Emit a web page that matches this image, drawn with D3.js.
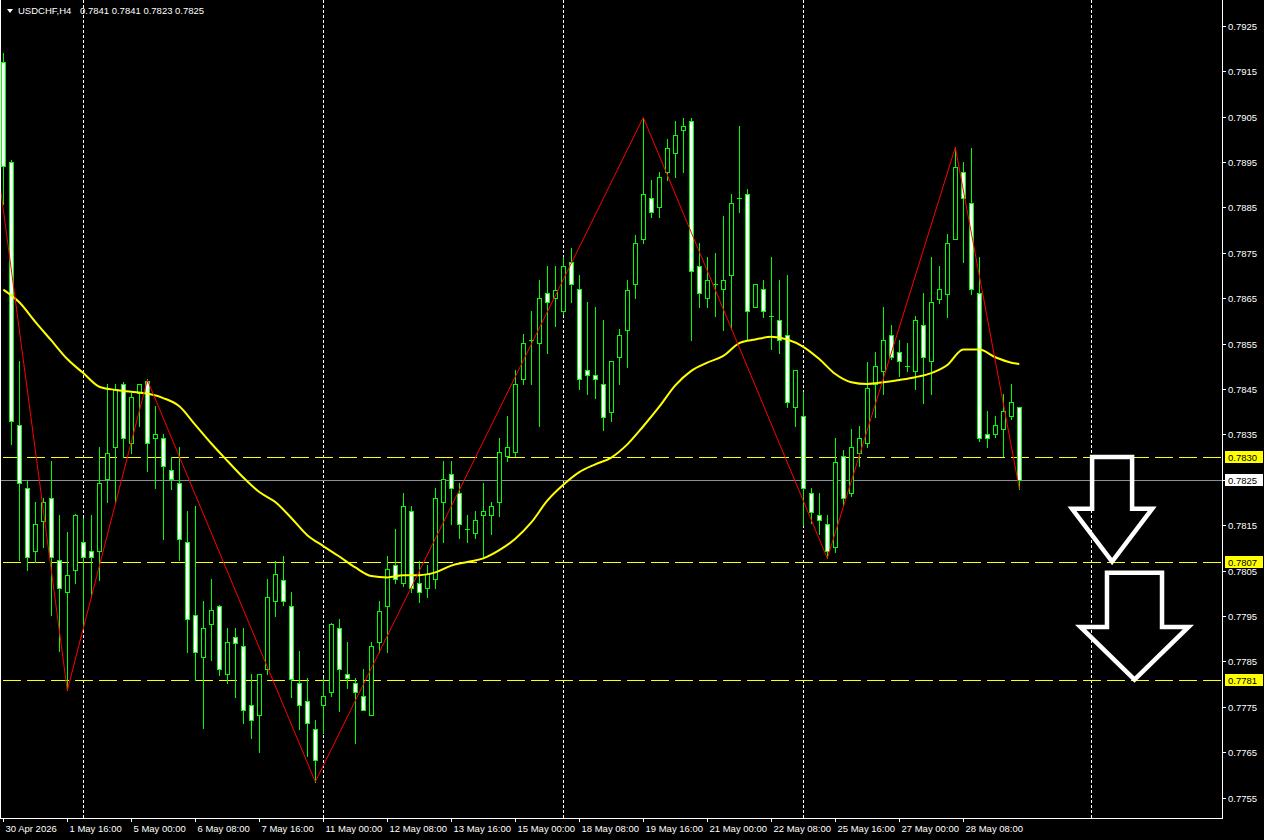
<!DOCTYPE html>
<html><head><meta charset="utf-8">
<script src="https://cdn.jsdelivr.net/npm/d3@7"></script>
<style>html,body{margin:0;padding:0;background:#000;overflow:hidden}</style>
</head><body>
<svg id="c" width="1264" height="840"></svg>
<script>
// ---------- DATA ----------
const symbolTitle = "USDCHF,H4";
const titleValues = "0.7841 0.7841 0.7823 0.7825";

const opens = [0.79171,0.78950,0.78371,0.78232,0.78093,0.78160,0.78211,0.78073,0.78003,0.78052,
0.78112,0.78093,0.78093,0.78252,0.78322,0.78461,0.78330,0.78441,0.78468,0.78341,
0.78341,0.78272,0.78242,0.78112,0.77952,0.77860,0.77932,0.77972,0.77822,0.77903,
0.77884,0.77753,0.77733,0.77833,0.77983,0.78030,0.77971,0.77802,0.77762,0.77702,
0.77753,0.77782,0.77923,0.77822,0.77802,0.77773,0.77733,0.77892,0.77971,0.78062,
0.78022,0.78181,0.78022,0.78011,0.78032,0.78200,0.78262,0.78221,0.78141,0.78132,
0.78172,0.78172,0.78201,0.78302,0.78311,0.78471,0.78559,0.78551,0.78661,0.78650,
0.78621,0.78729,0.78670,0.78492,0.78480,0.78460,0.78400,0.78520,0.78581,0.78681,
0.78780,0.78870,0.78850,0.78929,0.78969,0.79020,0.79040,0.78720,0.78650,0.78681,
0.78670,0.78700,0.78870,0.78879,0.78630,0.78670,0.78610,0.78601,0.78570,0.78411,
0.78390,0.78220,0.78172,0.78152,0.78101,0.78302,0.78220,0.78310,0.78330,0.78462,
0.78490,0.78570,0.78531,0.78500,0.78490,0.78590,0.78511,0.78649,0.78660,0.78780,
0.78929,0.78859,0.78661,0.78350,0.78350,0.78361,0.78391,0.78410];
const highs = [0.79191,0.78955,0.78512,0.78250,0.78201,0.78211,0.78291,0.78172,0.78134,0.78175,
0.78165,0.78172,0.78322,0.78461,0.78461,0.78465,0.78441,0.78462,0.78472,0.78413,
0.78350,0.78301,0.78322,0.78181,0.78192,0.77983,0.78031,0.77975,0.77923,0.77923,
0.77923,0.77822,0.77822,0.78031,0.78072,0.78083,0.78003,0.77873,0.77813,0.77722,
0.77813,0.77935,0.77943,0.77893,0.77813,0.77833,0.77893,0.77982,0.78083,0.78142,
0.78221,0.78192,0.78071,0.78062,0.78231,0.78291,0.78291,0.78242,0.78172,0.78181,
0.78242,0.78201,0.78341,0.78391,0.78492,0.78571,0.78622,0.78690,0.78721,0.78721,
0.78741,0.78760,0.78701,0.78641,0.78630,0.78602,0.78511,0.78582,0.78689,0.78790,
0.79048,0.78910,0.78929,0.79000,0.79040,0.79048,0.79048,0.78771,0.78740,0.78749,
0.78830,0.78879,0.79029,0.78890,0.78681,0.78690,0.78740,0.78690,0.78701,0.78491,
0.78443,0.78231,0.78220,0.78172,0.78341,0.78315,0.78361,0.78369,0.78510,0.78531,
0.78630,0.78590,0.78559,0.78551,0.78610,0.78661,0.78741,0.78721,0.78791,0.78982,
0.78949,0.78980,0.78740,0.78402,0.78390,0.78440,0.78461,0.78410];
const lows = [0.78857,0.78329,0.78073,0.78052,0.78069,0.78101,0.77952,0.77872,0.77786,0.78023,
0.77921,0.77991,0.78030,0.78201,0.78200,0.78301,0.78310,0.78368,0.78270,0.78231,
0.78120,0.78230,0.78073,0.77871,0.77810,0.77703,0.77852,0.77820,0.77802,0.77772,
0.77714,0.77682,0.77651,0.77822,0.77951,0.77975,0.77772,0.77702,0.77642,0.77585,
0.77693,0.77773,0.77741,0.77792,0.77670,0.77742,0.77733,0.77871,0.77871,0.78022,
0.78015,0.78002,0.77981,0.77991,0.78011,0.78113,0.78152,0.78121,0.78112,0.78121,
0.78081,0.78131,0.78171,0.78291,0.78302,0.78460,0.78460,0.78369,0.78530,0.78589,
0.78615,0.78641,0.78450,0.78439,0.78431,0.78360,0.78380,0.78460,0.78499,0.78650,
0.78771,0.78829,0.78829,0.78910,0.78918,0.78929,0.78559,0.78630,0.78630,0.78610,
0.78581,0.78582,0.78839,0.78558,0.78630,0.78609,0.78539,0.78530,0.78411,0.78369,
0.78150,0.78154,0.78131,0.78077,0.78092,0.78195,0.78215,0.78281,0.78322,0.78389,
0.78439,0.78515,0.78479,0.78490,0.78451,0.78420,0.78439,0.78639,0.78609,0.78780,
0.78729,0.78660,0.78335,0.78322,0.78345,0.78302,0.78385,0.78230];
const closes = [0.78941,0.78380,0.78243,0.78081,0.78153,0.78201,0.78081,0.78012,0.78041,0.78172,
0.78081,0.78081,0.78243,0.78310,0.78451,0.78341,0.78432,0.78460,0.78330,0.78350,
0.78281,0.78251,0.78120,0.77943,0.77871,0.77923,0.77963,0.77833,0.77892,0.77891,
0.77743,0.77722,0.77822,0.77991,0.78043,0.77983,0.77812,0.77753,0.77714,0.77632,
0.77773,0.77932,0.77833,0.77813,0.77782,0.77742,0.77884,0.77962,0.78053,0.78032,
0.78192,0.78011,0.78002,0.78042,0.78211,0.78251,0.78231,0.78152,0.78141,0.78161,
0.78181,0.78192,0.78311,0.78322,0.78460,0.78551,0.78559,0.78650,0.78641,0.78669,
0.78721,0.78681,0.78471,0.78480,0.78471,0.78389,0.78511,0.78570,0.78669,0.78771,
0.78879,0.78839,0.78918,0.78980,0.79009,0.79029,0.78709,0.78661,0.78689,0.78681,
0.78689,0.78859,0.78870,0.78622,0.78681,0.78621,0.78610,0.78559,0.78421,0.78491,
0.78231,0.78180,0.78161,0.78093,0.78290,0.78211,0.78322,0.78341,0.78452,0.78500,
0.78559,0.78520,0.78512,0.78500,0.78601,0.78520,0.78641,0.78670,0.78771,0.78938,
0.78870,0.78670,0.78341,0.78341,0.78370,0.78401,0.78421,0.78250];

// moving average (yellow), sampled along the chart
const maIndex = [0,2,4,6,8,10,12,14,16,18,20,22,24,26,28,30,32,34,36,38,40,42,44,46,48,50,52,54,56,58,60,62,64,66,68,70,72,74,76,78,80,82,84,86,88,90,92,94,96,98,100,102,104,106,108,110,112,114,116,118,120,122,124,126,127];
const maValues = [0.78669,0.78641,0.78598,0.78557,0.78516,0.78485,0.78455,0.78448,0.78444,0.78440,
0.78430,0.78412,0.78371,0.78330,0.78292,0.78255,0.78223,0.78201,0.78166,0.78128,
0.78104,0.78081,0.78057,0.78038,0.78035,0.78040,0.78040,0.78046,0.78061,0.78069,
0.78077,0.78095,0.78120,0.78156,0.78204,0.78239,0.78267,0.78284,0.78299,0.78328,
0.78368,0.78411,0.78458,0.78490,0.78508,0.78523,0.78551,0.78559,0.78565,0.78559,
0.78543,0.78516,0.78483,0.78465,0.78461,0.78465,0.78470,0.78476,0.78485,0.78503,
0.78537,0.78537,0.78520,0.78508,0.78505];

// zigzag (red)
const zigIndex = [-2, 8, 18, 39, 80, 103, 119, 127];
const zigValues = [0.79110, 0.77786, 0.78470, 0.77585, 0.79048, 0.78077, 0.78982, 0.78230];

// time axis
const timeLabelIndex = [0,8,16,24,32,40,48,56,64,72,80,88,96,104,112,120];
const timeLabels = ["30 Apr 2026","1 May 16:00","5 May 00:00","6 May 08:00","7 May 16:00","11 May 00:00",
"12 May 08:00","13 May 16:00","15 May 00:00","18 May 08:00","19 May 16:00","21 May 00:00",
"22 May 08:00","25 May 16:00","27 May 00:00","28 May 08:00"];
const separatorIndex = [10, 40, 70, 100, 136];

// price axis
const priceTicks = [0.7755,0.7765,0.7775,0.7785,0.7795,0.7805,0.7815,0.7825,0.7835,0.7845,0.7855,0.7865,0.7875,0.7885,0.7895,0.7905,0.7915,0.7925];
const levelLines = [0.7830, 0.7807, 0.7781];
const currentPrice = 0.7825;

// arrows (index units / prices)
const arrowCenter = [138.6, 141.4];
const arrowTop = [0.7830, 0.78045];
const arrowNeck = [0.78186, 0.77926];
const arrowTip = [0.7807, 0.7781];
const arrowShaftHalf = [2.5, 3.44];
const arrowHeadHalf = [5.0, 6.75];

// ---------- DRAW ----------
const W = 1264, H = 840;
const plotR = 1222, plotB = 818;
const svg = d3.select("#c");
const FONT = "Liberation Sans, Arial, sans-serif";

svg.append("rect").attr("width", W).attr("height", H).attr("fill", "#000");

const x = d3.scaleLinear().domain([0, 127]).range([3.3, 1019.3]);
const y = d3.scaleLinear().domain([0.7755, 0.7925]).range([797.6, 25.8]);

svg.append("defs").append("clipPath").attr("id", "plot")
  .append("rect").attr("x", 1).attr("y", 0).attr("width", plotR - 1).attr("height", plotB);

const g = svg.append("g").attr("clip-path", "url(#plot)");

// week separators
g.selectAll("line.sep").data(separatorIndex).enter().append("line")
  .attr("x1", d => Math.round(x(d)) + 0.5).attr("x2", d => Math.round(x(d)) + 0.5)
  .attr("y1", 0).attr("y2", plotB)
  .attr("stroke", "#ffffff").attr("stroke-width", 1).attr("stroke-dasharray", "3,2");

// level lines
g.selectAll("line.lvl").data(levelLines).enter().append("line")
  .attr("x1", 3).attr("x2", plotR)
  .attr("y1", d => Math.round(y(d)) + 0.5).attr("y2", d => Math.round(y(d)) + 0.5)
  .attr("stroke", "#ffff00").attr("stroke-width", 1).attr("stroke-dasharray", "18,6");

// bid line
g.append("line").attr("x1", 0).attr("x2", plotR)
  .attr("y1", Math.round(y(currentPrice)) + 0.5).attr("y2", Math.round(y(currentPrice)) + 0.5)
  .attr("stroke", "#8a8f98").attr("stroke-width", 1);

// candles
const idx = d3.range(opens.length);
const cg = g.append("g");
idx.forEach(i => {
  const cx = Math.round(x(i));
  const o = opens[i], c = closes[i];
  cg.append("line").attr("x1", cx + 0.5).attr("x2", cx + 0.5)
    .attr("y1", Math.round(y(highs[i]))).attr("y2", Math.round(y(lows[i])) + 1)
    .attr("stroke", "#00ff00").attr("stroke-width", 1);
  const top = Math.round(y(Math.max(o, c)));
  const bot = Math.round(y(Math.min(o, c)));
  if (bot - top < 1) {
    cg.append("line").attr("x1", cx - 2).attr("x2", cx + 3)
      .attr("y1", top + 0.5).attr("y2", top + 0.5)
      .attr("stroke", "#00ff00").attr("stroke-width", 1);
  } else {
    cg.append("rect").attr("x", cx - 2 + 0.5).attr("y", top + 0.5)
      .attr("width", 4).attr("height", bot - top)
      .attr("fill", c >= o ? "#000000" : "#ffffff")
      .attr("stroke", "#00ff00").attr("stroke-width", 1);
  }
});

// moving average
const maLine = d3.line().x((d, k) => x(maIndex[k])).y(d => y(d)).curve(d3.curveMonotoneX);
g.append("path").attr("d", maLine(maValues)).attr("fill", "none")
  .attr("stroke", "#ffff00").attr("stroke-width", 2);

// zigzag
const zzLine = d3.line().x((d, k) => x(zigIndex[k])).y(d => y(d));
g.append("path").attr("d", zzLine(zigValues)).attr("fill", "none")
  .attr("stroke", "#ff0000").attr("stroke-width", 1);

// arrows
arrowCenter.forEach((c, k) => {
  const s = arrowShaftHalf[k], h = arrowHeadHalf[k];
  const pts = [[c - s, arrowTop[k]], [c + s, arrowTop[k]], [c + s, arrowNeck[k]], [c + h, arrowNeck[k]],
               [c, arrowTip[k]], [c - h, arrowNeck[k]], [c - s, arrowNeck[k]]];
  g.append("polygon").attr("points", pts.map(p => x(p[0]) + "," + y(p[1])).join(" "))
    .attr("fill", "none").attr("stroke", "#ffffff").attr("stroke-width", 4.5)
    .attr("stroke-linejoin", "miter");
});

// frame
svg.append("line").attr("x1", 0.5).attr("x2", 0.5).attr("y1", 0).attr("y2", plotB + 1).attr("stroke", "#fff");
svg.append("line").attr("x1", plotR + 0.5).attr("x2", plotR + 0.5).attr("y1", 0).attr("y2", plotB + 1).attr("stroke", "#fff");
svg.append("line").attr("x1", 0).attr("x2", plotR + 1).attr("y1", plotB + 0.5).attr("y2", plotB + 0.5).attr("stroke", "#fff");

// price axis
const pa = svg.append("g");
priceTicks.forEach(p => {
  const yy = Math.round(y(p)) + 0.5;
  pa.append("line").attr("x1", plotR).attr("x2", plotR + 4).attr("y1", yy).attr("y2", yy).attr("stroke", "#fff");
  pa.append("text").attr("x", plotR + 6).attr("y", yy + 3.5)
    .attr("fill", "#ffffff").attr("font-family", FONT).attr("font-size", "9.5px").text(p.toFixed(4));
});

// price tags
function tag(p, bg) {
  const yy = Math.round(y(p));
  pa.append("rect").attr("x", plotR + 3).attr("y", yy - 6).attr("width", 38).attr("height", 12).attr("fill", bg);
  pa.append("text").attr("x", plotR + 6).attr("y", yy + 3.5)
    .attr("fill", "#000").attr("font-family", FONT).attr("font-size", "9.5px").text(p.toFixed(4));
}
levelLines.forEach(p => tag(p, "#ffff00"));
tag(currentPrice, "#ffffff");

// time axis
const ta = svg.append("g");
timeLabelIndex.forEach((i, k) => {
  const xx = Math.round(x(i)) + 0.5;
  ta.append("line").attr("x1", xx).attr("x2", xx).attr("y1", plotB).attr("y2", plotB + 4).attr("stroke", "#fff");
  ta.append("text").attr("x", xx + 2).attr("y", 832)
    .attr("fill", "#ffffff").attr("font-family", FONT).attr("font-size", "9.5px").text(timeLabels[k]);
});

// title
svg.append("path").attr("d", "M7,9 L13,9 L10,13 Z").attr("fill", "#fff");
svg.append("text").attr("x", 18).attr("y", 14).attr("fill", "#fff")
  .attr("font-family", FONT).attr("font-size", "9.5px").text(symbolTitle);
svg.append("text").attr("x", 80).attr("y", 14).attr("fill", "#fff")
  .attr("font-family", FONT).attr("font-size", "9.5px").text(titleValues);
</script>
</body></html>
